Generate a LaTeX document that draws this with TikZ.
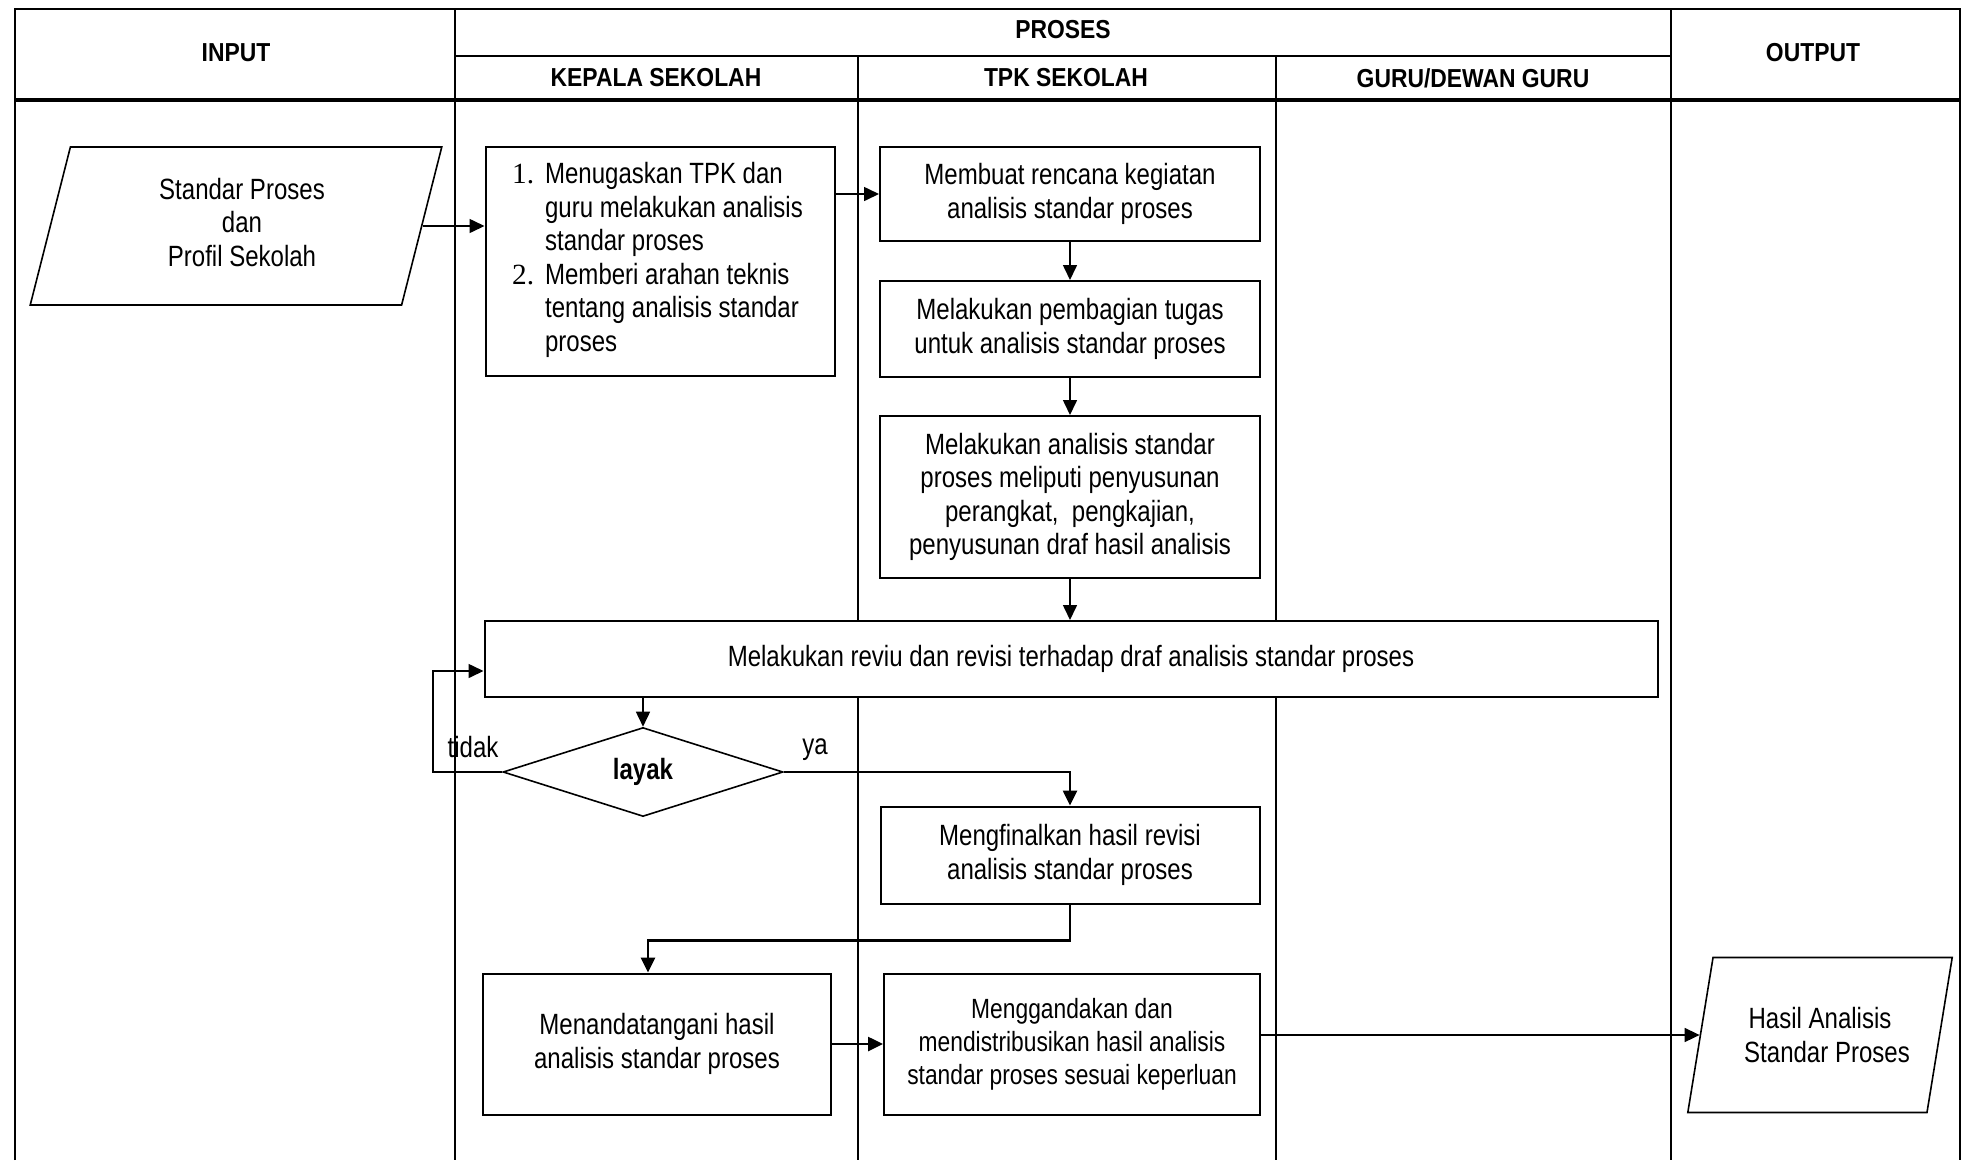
\documentclass[tikz,border=0pt]{standalone}
\usepackage{fontspec}
\setmainfont{Liberation Sans}[FakeStretch=0.82]
\newfontfamily\headfont{Liberation Sans}[FakeStretch=0.88]
\newfontfamily\numfont{Liberation Serif}
\usetikzlibrary{shapes.geometric,arrows.meta}

\begin{document}
\begin{tikzpicture}[x=1pt,y=-1pt,font=\fontsize{29.3}{33.5}\selectfont,
    >={Triangle[length=15pt,width=14pt]}]
    \tikzstyle{lane}=[line width=2pt]
    \tikzstyle{head}=[font=\headfont\bfseries\fontsize{26}{30}\selectfont]
    \tikzstyle{proc}=[rectangle,draw=black,fill=white,line width=2pt,align=center,inner sep=0pt]
    \tikzstyle{data}=[trapezium,trapezium stretches=true,draw=black,fill=white,line width=1.6pt,align=center,inner sep=0pt]
    \tikzstyle{link}=[->,line width=1.6pt]
    \tikzstyle{bold link}=[->,line width=2.6pt]
    \useasboundingbox (0,0) rectangle (1966,1160);

    % tabel
    \draw[lane] (15,1160) -- (15,9) -- (1960,9) -- (1960,1160);
    \draw[lane] (455,56) -- (1671,56);
    \draw[line width=4pt] (15,100) -- (1960,100);
    \foreach \x/\y in {455/9, 858/56, 1276/56, 1671/9}
        \draw[lane] (\x,\y) -- (\x,1160);

    \node[head] (h-in) at (236,53) {INPUT};
    \node[head] (h-proses) at (1063,30) {PROSES};
    \node[head] (h-out) at (1813,53) {OUTPUT};
    \node[head] (h-ks) at (656,78) {KEPALA SEKOLAH};
    \node[head] (h-tpk) at (1066,78) {TPK SEKOLAH};
    \node[head] (h-guru) at (1473,78) {GURU/DEWAN GURU};

    % alur
    \node[data,trapezium left angle=79.5,trapezium right angle=100.5,minimum width=412,minimum height=158]
        (in) at (236,226) {\raisebox{7pt}{\begin{tabular}{@{}c@{}}Standar Proses\\dan\\Profil Sekolah\end{tabular}}\hspace*{-12pt}};
    \node[proc,minimum width=349,minimum height=229] (ks1) at (660,261)
        {\begin{tabular}{@{}l@{\hspace{11pt}}l@{}}
            {\numfont 1.} & Menugaskan TPK dan\\
                          & guru melakukan analisis\\
                          & standar proses\\
            {\numfont 2.} & Memberi arahan teknis\\
                          & tentang analisis standar\\
                          & proses
         \end{tabular}\hspace*{5pt}};
    \node[proc,minimum width=380,minimum height=94] (tpk1) at (1070,194)
        {Membuat rencana kegiatan\\analisis standar proses};
    \node[proc,minimum width=380,minimum height=96] (tpk2) at (1070,329)
        {Melakukan pembagian tugas\\untuk analisis standar proses};
    \node[proc,minimum width=380,minimum height=162] (tpk3) at (1070,497)
        {Melakukan analisis standar\\proses meliputi penyusunan\\perangkat,\ \ pengkajian,\\penyusunan draf hasil analisis};
    \node[proc,minimum width=1173,minimum height=76] (rev) at (1071,659)
        {Melakukan reviu dan revisi terhadap draf analisis standar proses};
    \node[diamond,draw=black,fill=white,line width=1.6pt,inner sep=0pt,minimum width=280,minimum height=89]
        (layak) at (643,772) {\bfseries layak};
    \node (tidak) at (473,747) {tidak};
    \node (ya) at (815,750) {ya};
    \node[proc,minimum width=379,minimum height=97] (tpk4) at (1070,855)
        {Mengfinalkan hasil revisi\\analisis standar proses};
    \node[proc,minimum width=348,minimum height=141] (ks2) at (657,1044)
        {Menandatangani hasil\\analisis standar proses};
    \node[proc,minimum width=376,minimum height=141,font=\fontsize{27.8}{33}\selectfont] (tpk5) at (1072,1044)
        {Menggandakan dan\\mendistribusikan hasil analisis\\standar proses sesuai keperluan};
    \node[data,trapezium left angle=72,trapezium right angle=108,minimum width=265,minimum height=155]
        (out) at (1820,1035) {Hasil Analisis\\Standar Proses\hspace*{-14pt}};

    \coordinate (back) at (433,671);

    \draw[link] (in.east) -- (in.east -| ks1.west);
    \draw[link] (ks1.east |- tpk1) -- (tpk1.west);
    \foreach \from/\to in {tpk1/tpk2, tpk2/tpk3, tpk3/rev}
        \draw[link] (\from.south) -- (\from.south |- \to.north);
    \draw[link] (layak.north |- rev.south) -- (layak.north);
    \draw[link] (layak.west) -| (back) -- (back -| rev.west);
    \draw[bold link] (layak.east) -| (tpk4.north);
    \draw[bold link] (tpk4.south) -- ++(0,36) -| ([xshift=-9pt]ks2.north);
    \draw[bold link] (ks2.east) -- (tpk5.west);
    \draw[link] (tpk5.east |- out.west) -- (out.west);
\end{tikzpicture}
\end{document}
